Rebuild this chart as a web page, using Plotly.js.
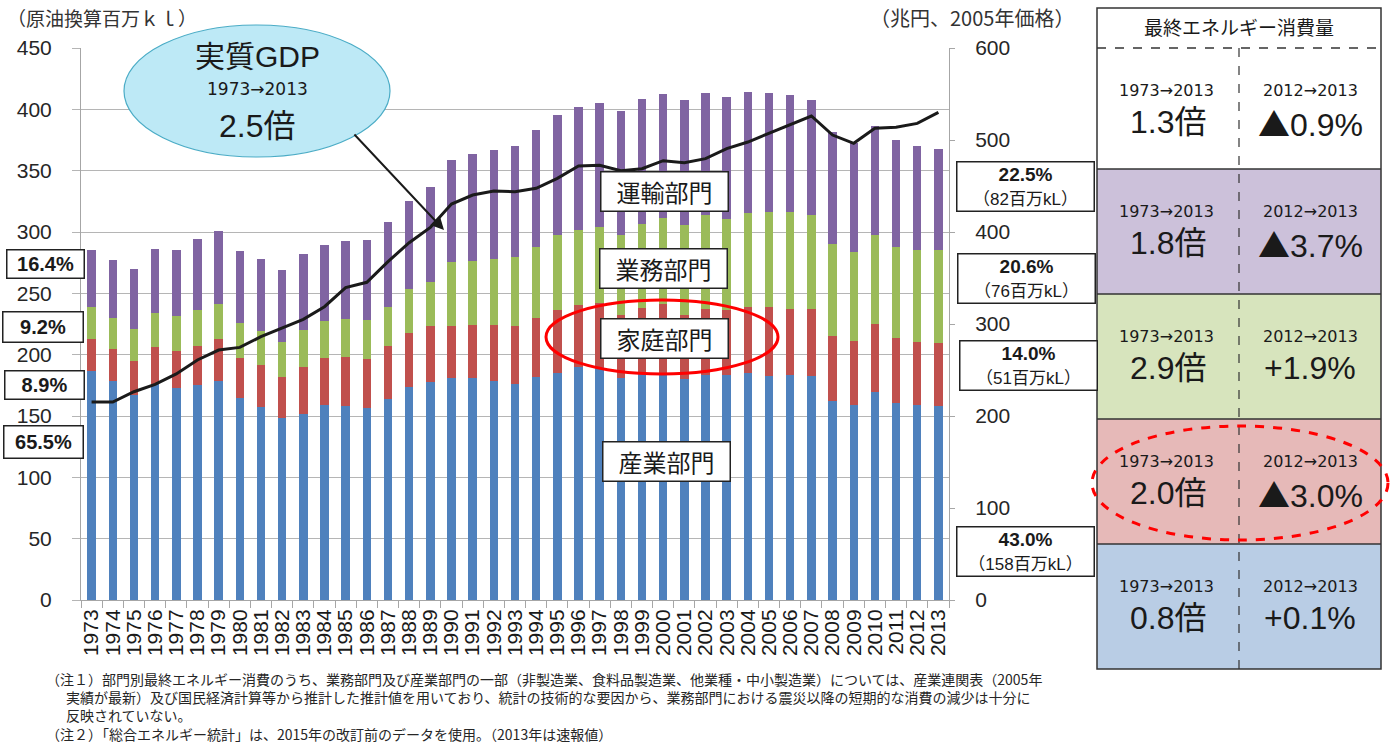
<!DOCTYPE html>
<html><head><meta charset="utf-8">
<script src="https://cdn.plot.ly/plotly-3.0.1.min.js"></script>
<style>html,body{margin:0;padding:0;background:#fff}#chart{width:1394px;height:744px}</style>
</head><body><div id="chart"></div>
<script>
// ---------- DATA ----------
const years = ['1973','1974','1975','1976','1977','1978','1979','1980','1981','1982','1983','1984','1985','1986','1987','1988','1989','1990','1991','1992','1993','1994','1995','1996','1997','1998','1999','2000','2001','2002','2003','2004','2005','2006','2007','2008','2009','2010','2011','2012','2013'];
const industry    = [186.9,178.2,167.4,175.8,172.8,175.3,178.2,165.0,157.6,148.1,151.4,158.7,157.9,156.3,163.6,173.6,178.1,180.7,180.7,178.8,176.1,182.1,185.3,189.7,189.7,181.2,184.8,183.7,179.9,183.2,183.2,185.0,182.6,183.4,182.3,162.2,159.0,169.8,160.9,158.7,158.4];
const residential = [25.6,26.1,27.2,30.7,30.5,32.0,34.3,32.6,34.2,34.0,38.3,38.3,40.5,40.4,43.2,44.3,45.4,42.7,43.8,45.7,47.5,48.1,50.8,50.5,52.7,51.1,53.2,57.6,52.4,54.3,53.2,53.9,56.3,54.1,55.2,53.0,52.4,55.5,53.0,51.9,51.1];
const commercial  = [26.4,25.9,26.0,27.7,27.9,29.1,28.5,28.2,27.8,27.9,30.4,30.4,30.7,31.3,32.3,35.4,36.0,52.1,51.9,53.2,56.0,57.3,61.4,61.4,61.9,65.2,68.5,70.1,73.4,76.1,74.5,76.6,77.1,79.1,76.6,75.0,72.3,72.5,74.1,74.4,75.5];
const transport   = [46.4,47.0,49.2,52.2,54.1,57.6,59.8,58.7,58.1,59.0,61.7,62.0,63.6,65.5,68.9,71.7,76.9,83.2,87.4,88.9,90.5,95.4,98.2,100.3,101.1,100.9,101.9,100.8,101.6,99.4,98.9,98.6,97.0,95.4,93.2,91.6,88.6,88.6,87.0,85.4,82.4];
const gdp         = [215.2,215.2,226.4,234.4,245.7,260.9,271.7,274.6,286.2,295.3,305.1,318.8,339.5,345.3,367.8,388.4,405.0,430.4,440.2,444.6,443.8,447.5,458.3,471.7,472.5,466.7,468.8,477.5,475.4,479.7,490.6,497.8,507.2,516.7,526.1,505.4,496.4,512.7,513.8,518.1,530.0];

const leftAxisTitle = '（原油換算百万ｋｌ）';
const rightAxisTitle = '（兆円、2005年価格）';
const sectorNames = ['運輸部門','業務部門','家庭部門','産業部門'];
const leftShares = ['16.4%','9.2%','8.9%','65.5%'];
const rightShares = ['22.5%','20.6%','14.0%','43.0%'];
const rightAmounts = ['（82百万kL）','（76百万kL）','（51百万kL）','（158百万kL）'];
const gdpTitle = '実質GDP';
const gdpPeriod = '1973→2013';
const gdpRatio = '2.5倍';
const tableHeader = '最終エネルギー消費量';
const tablePeriodL = '1973→2013';
const tablePeriodR = '2012→2013';
const tableLeft = ['1.3倍','1.8倍','2.9倍','2.0倍','0.8倍'];
const tableRight = ['▲0.9%','▲3.7%','+1.9%','▲3.0%','+0.1%'];
const notes = [
 '（注１）部門別最終エネルギー消費のうち、業務部門及び産業部門の一部（非製造業、食料品製造業、他業種・中小製造業）については、産業連関表（2005年',
 '実績が最新）及び国民経済計算等から推計した推計値を用いており、統計の技術的な要因から、業務部門における震災以降の短期的な消費の減少は十分に',
 '反映されていない。',
 '（注２）「総合エネルギー統計」は、2015年の改訂前のデータを使用。（2013年は速報値）'
];

// ---------- STYLE / LAYOUT ----------
const C = {blue:'#4f81bd', red:'#c0504d', green:'#9bbb59', purple:'#8064a2'};
const tableColors = ['#ffffff','#ccc1da','#d7e4bd','#e6b9b8','#b9cde5'];
const L=81, R=949, T=48, B=600;
const fx = x => (x-L)/(R-L);
const fy = y => (B-y)/(B-T);
const LAT = 'Liberation Sans, Arial, Noto Sans CJK JP, sans-serif';
const JP = 'Noto Sans CJK JP, sans-serif';
const DJ = 'DejaVu Sans, sans-serif';
const txt = '#1a1a1a';

const traces = [
  {type:'bar', name:'産業部門', x:years, y:industry, marker:{color:C.blue}},
  {type:'bar', name:'家庭部門', x:years, y:residential, marker:{color:C.red}},
  {type:'bar', name:'業務部門', x:years, y:commercial, marker:{color:C.green}},
  {type:'bar', name:'運輸部門', x:years, y:transport, marker:{color:C.purple}},
  {type:'scatter', mode:'lines', name:'実質GDP', x:years, y:gdp, yaxis:'y2',
   line:{color:'#1a1a1a', width:3}}
];

const shapes = [];
const ann = [];
function A(o){ ann.push(Object.assign({xref:'paper', yref:'paper', showarrow:false, xanchor:'center', yanchor:'middle'}, o)); }
function S(o){ shapes.push(Object.assign({xref:'paper', yref:'paper', layer:'above'}, o)); }
const tri = s => s.replace('▲','<span style="font-family:Noto Sans CJK JP">▲</span>');

// axis unit titles
A({x:fx(5), y:fy(18), xanchor:'left', text:leftAxisTitle, font:{family:JP, size:19, color:'#333'}});
A({x:fx(1076), y:fy(18), xanchor:'right', text:rightAxisTitle, font:{family:JP, size:20, color:'#333'}});

// GDP ellipse
S({type:'circle', x0:fx(124), x1:fx(390), y0:fy(25), y1:fy(157), fillcolor:'#bde9f6', line:{color:'#4bacc6', width:1.2}});
A({x:fx(257), y:fy(57), text:gdpTitle, font:{family:LAT, size:30, color:txt}});
A({x:fx(257), y:fy(89), text:gdpPeriod, font:{family:DJ, size:17, color:txt}});
A({x:fx(257), y:fy(126), text:gdpRatio, font:{family:LAT, size:32, color:txt}});
// arrow
A({x:fx(444), y:fy(230), ax:-91, ay:-97, showarrow:true, arrowhead:2, arrowsize:1.3, arrowwidth:2, arrowcolor:'#1a1a1a', text:''});

// sector label boxes in chart
const secPos = [[664,191],[663,268],[664,338],[666,461]];
sectorNames.forEach((s,i)=>A({x:fx(secPos[i][0]), y:fy(secPos[i][1]), text:s, width:124, height:36, borderpad:1,
  bgcolor:'#fff', bordercolor:'#222', borderwidth:1.5, font:{family:JP, size:24, color:txt}}));
// red ellipse
S({type:'circle', x0:fx(546), x1:fx(778), y0:fy(300), y1:fy(374), line:{color:'#ff0000', width:3}});

// left share boxes
const lPos = [[45,263.5,76,27],[42.5,326.5,79,29],[44,384.5,78,27],[43,441.5,78,31]];
leftShares.forEach((s,i)=>A({x:fx(lPos[i][0]), y:fy(lPos[i][1]), text:'<b>'+s+'</b>', width:lPos[i][2], height:lPos[i][3], borderpad:0,
  bgcolor:'#fff', bordercolor:'#222', borderwidth:1.5, font:{family:LAT, size:20, color:txt}}));

// right share boxes
const rPos = [[1025.5,186],[1026,278.7],[1028,365.5],[1025.5,551.7]];
rightShares.forEach((s,i)=>A({x:fx(rPos[i][0]), y:fy(rPos[i][1]),
  text:'<b>'+s+'</b><br><span style="font-size:17px">'+rightAmounts[i]+'</span>', width:134, height:46, borderpad:1,
  bgcolor:'#fff', bordercolor:'#222', borderwidth:1.5, font:{family:LAT, size:19, color:txt}}));

// table
const tX0=1097, tX1=1381, tMid=1239, tTop=8, tHead=48;
const rowTops = [48,169,294,419,544,669];
S({type:'rect', x0:fx(tX0), x1:fx(tX1), y0:fy(tTop), y1:fy(tHead), fillcolor:'#fff', line:{width:0}});
tableColors.forEach((c,i)=>S({type:'rect', x0:fx(tX0), x1:fx(tX1), y0:fy(rowTops[i]), y1:fy(rowTops[i+1]), fillcolor:c, line:{width:0}}));
for(let i=1;i<5;i++) S({type:'line', x0:fx(tX0), x1:fx(tX1), y0:fy(rowTops[i]), y1:fy(rowTops[i]), line:{color:'#333', width:1.5}});
S({type:'line', x0:fx(tX0), x1:fx(tX1), y0:fy(tHead), y1:fy(tHead), line:{color:'#333', width:1.5, dash:'dash'}});
S({type:'line', x0:fx(tMid), x1:fx(tMid), y0:fy(tHead), y1:fy(669), line:{color:'#333', width:1.2, dash:'dash'}});
S({type:'rect', x0:fx(tX0), x1:fx(tX1), y0:fy(tTop), y1:fy(669), line:{color:'#333', width:1.5}});
A({x:fx(1239), y:fy(27), text:tableHeader, font:{family:JP, size:19, color:txt}});
tableLeft.forEach((s,i)=>{
  const t=rowTops[i];
  A({x:fx(1166), y:fy(t+42), text:tablePeriodL, font:{family:DJ, size:16, color:txt}});
  A({x:fx(1168), y:fy(t+74), text:s, font:{family:LAT, size:32, color:txt}});
  A({x:fx(1310), y:fy(t+42), text:tablePeriodR, font:{family:DJ, size:16, color:txt}});
  A({x:fx(1310), y:fy(t+74), text:tri(tableRight[i]), font:{family:LAT, size:32, color:txt}});
});
S({type:'circle', x0:fx(1092), x1:fx(1388), y0:fy(426), y1:fy(540), line:{color:'#ff0000', width:3, dash:'dash'}});

// notes
const noteY = [679,697,715,734], noteX=[44,64,64,44];
notes.forEach((n,i)=>A({x:fx(noteX[i]), y:fy(noteY[i]), xanchor:'left', text:n, font:{family:JP, size:14, color:'#262626'}}));

const layout = {
  width:1394, height:744,
  margin:{l:L, r:1394-R, t:T, b:744-B, pad:0},
  paper_bgcolor:'#fff', plot_bgcolor:'#fff',
  barmode:'stack', bargap:0.6, showlegend:false,
  font:{family:LAT, color:'#262626'},
  xaxis:{type:'category', tickmode:'linear', dtick:1, tickangle:-90, tickfont:{family:LAT, size:21, color:'#1a1a1a'},
    showline:true, linecolor:'#a6a6a6', linewidth:1, ticks:'outside', tickson:'boundaries', ticklen:7, tickcolor:'#a6a6a6',
    showgrid:false, range:[-0.5,40.5], fixedrange:true},
  yaxis:{range:[0,450], dtick:50, showgrid:true, gridcolor:'#b5b5b5', gridwidth:1, zeroline:false,
    showline:true, linecolor:'#a6a6a6', ticks:'outside', ticklen:8, tickcolor:'#b5b5b5',
    tickfont:{family:LAT, size:21, color:'#262626'}, ticklabelstandoff:16},
  yaxis2:{range:[0,600], dtick:100, overlaying:'y', side:'right', showgrid:false, zeroline:false,
    showline:true, linecolor:'#a6a6a6', ticks:'outside', ticklen:5, tickcolor:'#a6a6a6',
    tickfont:{family:LAT, size:21, color:'#262626'}, ticklabelstandoff:16},
  shapes:shapes, annotations:ann
};
Plotly.newPlot('chart', traces, layout, {displayModeBar:false, staticPlot:true});
</script></body></html>
